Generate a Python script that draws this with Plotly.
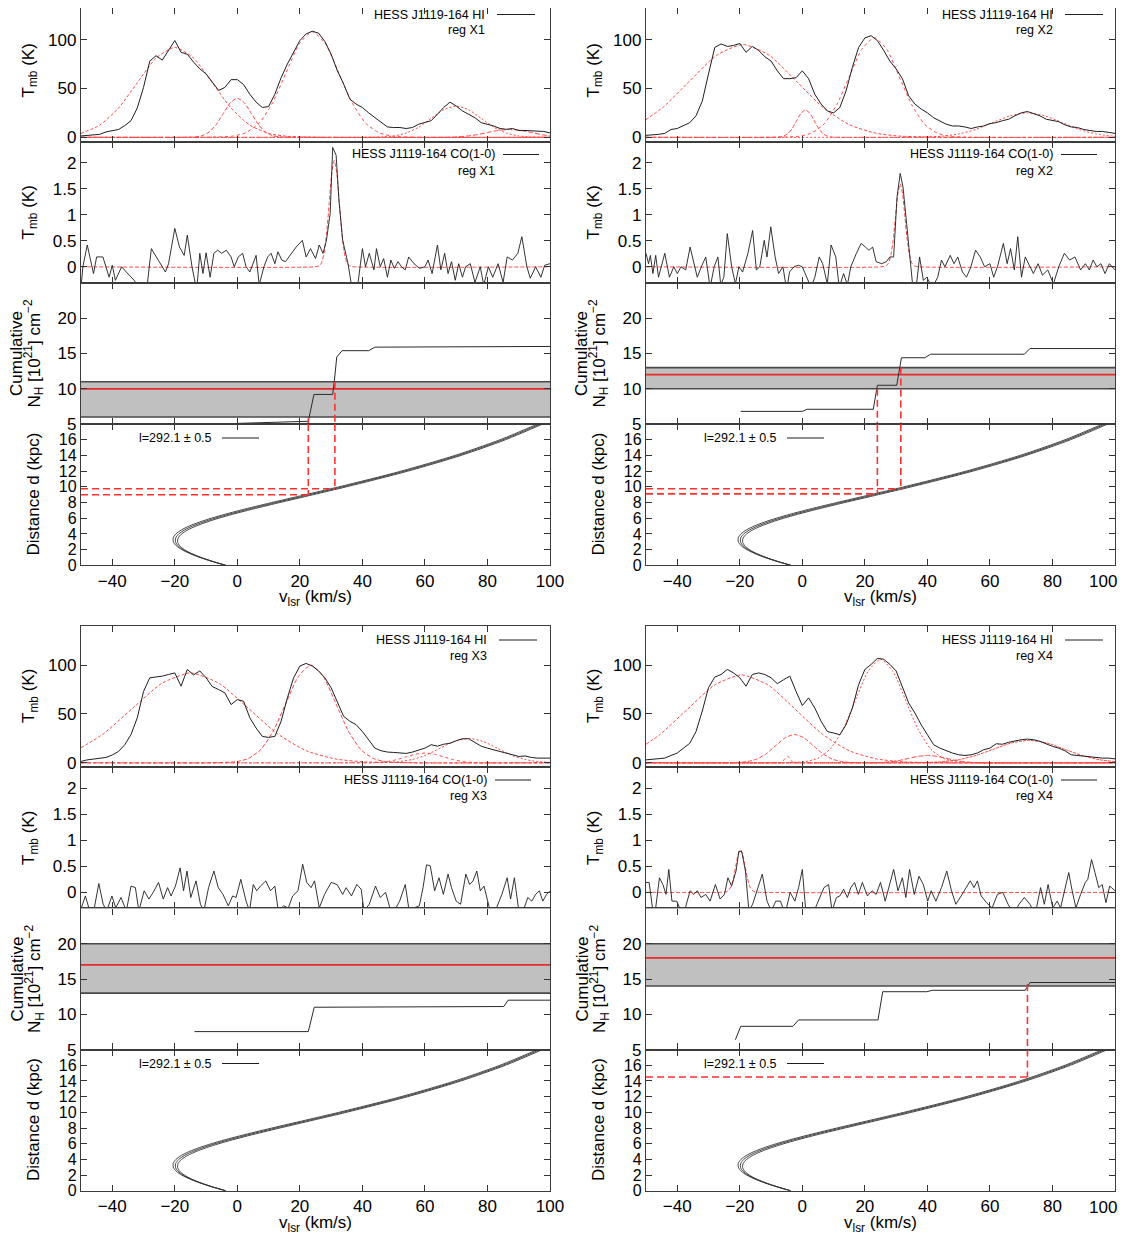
import plotly.graph_objects as go

# the page places the figure 8 px from the window's top-left corner
OFF = 8
W, H = 1128, 1234
FONT = "Liberation Sans, Arial, Helvetica, sans-serif"

# ---------------------------------------------------------------- data
regions = ["X1", "X2", "X3", "X4"]
x_ticks = [-40, -20, 0, 20, 40, 60, 80, 100]
x_tick_text = ["−40", "−20", "0", "20", "40", "60", "80", "100"]

# HI spectra, sampled every 2 km/s from -50 to 100
v_hi = list(range(-50, 101, 2))
hi_X1 = [1.4, 2, 2, 3, 5.5, 7, 8, 12, 17, 30,
         51, 78, 83.5, 79, 89, 99, 87, 85, 77, 70,
         65, 57, 48, 51, 59, 59, 54, 44, 36, 30.5,
         31.5, 44, 61, 75, 87, 99, 105.8, 108.6, 106.5, 98,
         85, 68, 54.5, 39, 34, 30.5, 25, 20, 15, 10.6,
         10, 10, 9, 10, 13.4, 15, 17, 23.6, 30.5, 36,
         32, 27, 23.6, 20, 15, 13.4, 11.6, 9, 8.2, 9,
         7, 7, 6.5, 6.5, 6, 4.5]
hi_X2 = [2, 2.4, 3, 4, 8, 9, 11.6, 15, 22, 37,
         65, 92, 95.5, 93, 94, 96, 87, 93, 89, 82.5,
         78, 68, 60, 60, 61, 68, 60, 44, 34, 27,
         25, 30.5, 47.6, 71.6, 92, 101.7, 104, 99, 89, 78,
         70, 60, 42.5, 34, 29, 25, 20, 17, 13.4, 11.6,
         11.6, 10.6, 9, 10.6, 11.6, 14, 15, 17, 18.5, 22,
         25, 26.4, 24.3, 22, 18.5, 17, 16, 12.7, 10.6, 10,
         8, 7, 6, 6, 5, 4]
hi_X3 = [1.4, 3, 3.8, 5, 5.5, 8, 11.6, 18.5, 29, 46,
         73, 87, 87.7, 88.7, 90.4, 92, 78.4, 95.5, 90, 94,
         87, 78, 75, 71.6, 59.6, 64.7, 63, 46, 35.6, 27,
         26, 27, 42.5, 66.4, 87, 99, 101.7, 99, 94, 87,
         76.7, 63, 47.6, 42.5, 39, 32, 23.6, 15, 12.3, 11,
         10.6, 10, 9.6, 11, 13.4, 15, 18.5, 17, 19, 20,
         22.6, 24.6, 24.6, 21, 17, 15, 13.4, 11.6, 10, 8.2,
         6.5, 7, 5.5, 4.8, 4.8, 4.8]
hi_X4 = [3, 3.8, 4, 4.8, 7.5, 10, 15, 20, 32, 53,
         77, 87.7, 90.4, 95.5, 92, 87, 78.4, 90.4, 92, 90.4,
         87, 81, 85, 88.7, 73, 58.6, 66.4, 56, 42.5, 32,
         30.5, 28.8, 39, 56, 80, 95.5, 100.7, 106.8, 106, 100.7,
         94, 78.4, 61.3, 51, 39, 28.8, 18.5, 15, 12.3, 10,
         8.2, 7.5, 8.2, 10, 13.4, 15, 19.5, 19, 21, 22.6,
         23.6, 24.3, 23.6, 22, 19, 16.8, 15, 12.3, 8.2, 7.5,
         7, 6.5, 5.5, 4.8, 4.8, 4]

# CO(1-0) spectra (velocity, Tmb)
co_v_X1 = [-50, -49.4, -48, -46, -45, -43, -41, -40, -39, -37,
           -35.5, -33, -31.5, -29, -27.5, -26, -24, -23, -22, -20,
           -18.5, -17, -16, -14.5, -13, -12, -11, -10, -8.7, -7.5,
           -6.3, -5, -3.5, -2, -1, 0.3, 1.7, 2.8, 4, 5,
           6, 7, 8.5, 9.7, 10.8, 12, 13, 14.2, 15.4, 16.5,
           17.7, 18.8, 20.8, 22, 23.4, 25, 26.2, 27.4, 28.5, 29.7,
           30.5, 31.6, 32.5, 33.7, 35.4, 36.5, 38.2, 40, 41, 42.2,
           43.7, 44.5, 45.7, 46.8, 48, 49.1, 50.2, 51.4, 52.5, 53.7,
           54.8, 56.5, 58.3, 60, 61, 62.3, 64, 65.1, 66.3, 67.4,
           68.5, 69.7, 70.8, 72, 73, 74.5, 76, 77.7, 78.8, 80.3,
           81.7, 83.4, 85, 86.3, 88, 89.7, 91, 92.6, 93.7, 95.4,
           97.1, 98.3, 100]
co_T_X1 = [-0.4, 0, 0.42, -0.13, 0.19, 0.19, -0.2, 0.03, -0.26, 0,
           -0.1, -0.26, -0.4, -0.45, 0.35, 0.2, 0, -0.1, 0.06, 0.74,
           0.38, 0.22, 0.61, 0, -0.45, 0.26, -0.13, 0.27, -0.2, 0.26,
           0.32, 0.26, 0.32, 0.19, 0, 0.19, 0.26, 0, -0.1, 0.06,
           0.22, -0.35, 0, 0.19, 0.26, 0.06, 0.29, 0.13, 0.1, 0.19,
           0.29, 0.38, 0.51, 0.19, 0.35, 0.16, 0.42, 0.26, 0.51, 1.03,
           2.3, 2.15, 1.28, 0.51, 0.06, -0.35, -0.5, 0.35, 0, 0.26,
           -0.06, 0.35, 0, 0.16, -0.2, 0.13, -0.03, 0.1, 0, -0.06,
           0.19, 0.06, -0.03, 0, 0.13, -0.13, 0.42, -0.06, 0.26, -0.13,
           0.1, -0.26, 0.06, -0.2, 0, 0.06, -0.3, 0, -0.35, 0,
           -0.2, 0.06, -0.3, 0.19, 0.13, 0.26, 0.58, 0, -0.22, 0,
           -0.2, 0.03, 0.06]
co_v_X2 = [-50, -49.2, -48.6, -47.8, -46.9, -46, -44, -42.5, -41.1, -40,
           -38.8, -37.3, -35.9, -34.7, -33.6, -32.1, -30.9, -29.5, -28.2, -27,
           -26.1, -25.1, -24, -22.6, -21.4, -20.3, -19.1, -17.4, -15.9, -14.7,
           -13.6, -12.2, -11.3, -10.1, -8.7, -7.6, -6.2, -5, -4.1, -2.7,
           -1.2, 0, 1.7, 2.8, 4, 5.4, 6.5, 8, 9.2, 10.7,
           11.8, 13.2, 14.4, 15.5, 17.3, 18.8, 20.2, 21.3, 22.5, 23.6,
           25.4, 26.9, 28, 29.2, 30.3, 31.3, 32.2, 33.5, 34.3, 35.2,
           36.4, 37.5, 38.7, 39.8, 41.6, 43.3, 44.5, 45.6, 47.3, 48.5,
           49.7, 51.2, 52.5, 53.9, 55.4, 56.9, 58.3, 60, 61.2, 62.4,
           64.3, 65.5, 66.6, 67.8, 68.9, 70.1, 71.3, 72.8, 73.9, 75.4,
           76.8, 78.5, 80.3, 82, 83.8, 85.5, 87.2, 89, 90.5, 91.8,
           93, 94.2, 95.5, 96.8, 98.2, 100]
co_T_X2 = [0.26, 0.06, 0.22, -0.13, 0.22, -0.2, 0.26, -0.2, 0, -0.13,
           0, -0.06, 0.38, 0.06, -0.2, 0.03, 0.19, -0.4, 0, 0.19,
           -0.35, -0.2, 0.64, 0, -0.33, 0, -0.1, 0.26, 0.7, -0.06,
           0, 0.51, 0.19, 0.77, 0.19, -0.13, 0, -0.45, -0.1, 0,
           0.03, 0, -0.22, -0.4, -0.2, 0.19, 0.06, -0.33, 0.42, 0.19,
           -0.4, -0.13, -0.35, 0, 0.26, 0.45, 0.38, 0.32, 0.38, 0.1,
           0.06, 0.1, 0.19, 0.19, 1.35, 1.8, 1.54, 0.7, 0.26, -0.3,
           -0.4, 0.19, -0.26, -0.2, -0.4, -0.2, 0.13, 0, 0.22, 0.06,
           0.19, -0.1, -0.2, 0, 0.32, 0.19, 0, 0.06, -0.2, 0,
           0.45, 0.06, 0.35, -0.06, 0.58, -0.2, 0.19, 0, -0.13, 0.06,
           -0.16, -0.06, -0.33, 0, 0.26, 0.13, 0.19, -0.06, 0.06, -0.06,
           0.13, 0, 0.06, -0.13, 0.06, -0.06]
co_v_X3 = [-50, -48.6, -47.3, -45.8, -44.3, -42.9, -41.8, -40.1, -38.9, -37.2,
           -35.5, -34, -32.6, -31.5, -29.8, -28.3, -26.9, -25.2, -23.7, -22.3,
           -21.2, -19.8, -18.3, -17.2, -16.1, -14.9, -13.2, -11.8, -10.7, -9.2,
           -7.5, -6.1, -4.6, -2.9, -1.5, -0.4, 1.1, 2.8, 3.9, 5.1,
           6.2, 7.4, 9.1, 10.6, 12, 13.1, 14.8, 16.3, 17.7, 19.4,
           20.9, 22.2, 23.6, 24.7, 26.2, 27.9, 30, 31.9, 33.7, 34.8,
           36.5, 38.2, 39.6, 40.5, 42.2, 44.2, 45.7, 47.4, 48.8, 50.2,
           51.9, 53.7, 55.1, 56.5, 58.2, 59.4, 60.5, 61.7, 63.1, 64.5,
           65.9, 67.4, 68.5, 70, 71.4, 73.1, 74.3, 75.4, 76.6, 77.7,
           78.9, 80, 81.1, 82.9, 84.6, 86.3, 87.4, 88.6, 89.9, 91.4,
           92.9, 94.2, 95.4, 96.6, 97.7, 98.9, 100]
co_T_X3 = [-0.32, -0.07, -0.34, -0.32, 0.17, -0.23, -0.36, -0.07, -0.3, -0.1,
           -0.36, 0.12, 0.09, -0.36, 0.03, -0.13, 0, 0.19, -0.13, 0.09,
           -0.07, 0.12, 0.47, 0.03, 0.41, -0.1, 0.22, -0.23, -0.36, 0.09,
           0.41, 0.09, -0.04, -0.26, -0.07, -0.1, 0.25, -0.17, -0.36, 0.15,
           0.03, 0.12, 0.22, 0.03, 0.12, -0.36, -0.26, -0.3, -0.07, 0.03,
           0.54, 0.19, 0.09, 0.22, -0.3, -0.04, 0.19, 0.15, -0.04, 0.09,
           -0.07, 0.15, 0.06, -0.36, -0.23, 0.12, -0.1, 0, -0.3, -0.36,
           -0.17, 0.15, -0.42, -0.3, -0.26, 0.09, 0.53, 0.51, 0.03, 0.28,
           -0.04, 0.35, 0.09, -0.17, -0.23, 0.35, 0.15, 0.22, 0.41, 0.03,
           0.12, -0.17, -0.42, -0.3, -0.04, 0.28, -0.13, 0.28, -0.3, -0.36,
           -0.1, -0.17, -0.04, 0.03, -0.17, -0.04, 0.03]
co_v_X4 = [-50, -49, -47.8, -46.9, -45.7, -44.6, -43.6, -42.7, -41.7, -40.2,
           -38.8, -37.4, -35.9, -34.7, -33.6, -32.4, -30.9, -29.5, -27.8, -26.3,
           -24.9, -23.8, -22.6, -21.2, -20.3, -19.4, -18.2, -17.1, -15.9, -14.5,
           -12.8, -11.3, -9.9, -8.5, -7, -5.5, -3.9, -2.4, -1.2, 0,
           1.1, 2.8, 5.1, 6.9, 8.4, 9.5, 10.9, 12, 13.2, 14.4,
           15.5, 16.7, 17.9, 19.2, 20.8, 22.3, 23.6, 25, 26.5, 27.7,
           29.2, 30.6, 32, 33.1, 34.3, 35.8, 37.3, 38.7, 40.1, 41.2,
           42.7, 44.5, 46.2, 47.7, 49.1, 50.8, 52.3, 53.7, 54.9, 56,
           57.2, 58.9, 60.7, 62.4, 64.1, 65.8, 67.6, 69.3, 71, 72.8,
           74.5, 76.2, 77.4, 78.6, 80.1, 81.5, 82.6, 84, 85.2, 86.3,
           87.5, 89, 90.5, 91.3, 92.5, 93.6, 94.8, 95.9, 97.1, 98.3,
           100]
co_T_X4 = [0.19, 0.19, -0.36, -0.3, 0.28, 0.15, -0.04, 0.44, -0.17, -0.17,
           -0.36, -0.3, 0.03, -0.04, 0.03, -0.1, -0.04, -0.17, 0.15, -0.13,
           -0.04, 0.28, 0.12, 0.41, 0.79, 0.79, 0.41, -0.36, -0.23, 0.03,
           0.35, -0.17, -0.36, -0.17, -0.17, -0.42, 0, -0.17, 0.09, 0.44,
           -0.36, -0.5, -0.17, 0.09, 0.15, -0.36, -0.1, -0.07, 0.06, -0.1,
           0.09, 0.19, -0.04, 0.19, -0.07, 0.03, -0.04, 0.19, -0.17, 0.09,
           0.44, 0.03, 0.28, -0.1, 0.44, -0.04, 0.31, 0.15, -0.17, 0.03,
           -0.17, 0.09, 0.41, 0.03, -0.23, -0.07, 0.09, 0.22, 0.09, 0.22,
           -0.07, -0.2, -0.3, -0.04, 0, -0.23, -0.42, -0.23, -0.1, -0.23,
           -0.42, 0.09, -0.23, 0.15, -0.3, -0.17, -0.3, 0.09, 0.38, 0.03,
           -0.3, -0.04, 0.19, 0.25, 0.63, 0.38, 0.09, 0.15, -0.2, 0.12,
           0.03]

# Gaussian fit components, read point by point (velocity list, Tmb list)
fit_hi_X1 = [
    ([-50, -44, -38, -32, -26, -20, -14, -8, -2, 4, 10, 16, 28, 100],
     [4.0, 12.4, 29.9, 55.8, 81.1, 92, 81.1, 55.8, 29.9, 12.4, 4.0, 1.0, 0, 0]),
    ([-50, -18, -13.5, -11.25, -9, -6.75, -4.5, -2.25, 0, 2.25, 4.5, 6.75, 9, 11.25, 13.5, 18, 100],
     [0, 0, 0.44, 1.76, 5.4, 13, 24.3, 35.3, 40, 35.3, 24.3, 13, 5.4, 1.76, 0.44, 0, 0]),
    ([-50, -10, -1.5, 2.75, 7, 11.25, 15.5, 19.75, 24, 28.25, 32.5, 36.75, 41, 45.25, 49.5, 58, 100],
     [0, 0, 1.2, 4.75, 14.6, 35.1, 65.5, 95.3, 108, 95.3, 65.5, 35.1, 14.6, 4.75, 1.2, 0, 0]),
    ([-50, 38, 46, 50, 54, 58, 62, 66, 70, 74, 78, 82, 86, 90, 94, 100],
     [0, 0, 0.35, 1.4, 4.3, 10.4, 19.4, 28.2, 32, 28.2, 19.4, 10.4, 4.3, 1.4, 0.35, 0.03]),
    ([-50, 59, 66, 69.5, 73, 76.5, 80, 83.5, 87, 90.5, 94, 97.5, 100],
     [0, 0, 0.09, 0.35, 1.1, 2.6, 4.9, 7.1, 8, 7.1, 4.9, 2.6, 1.4]),
]
fit_co_X1 = [
    ([-50, 24.6, 26.2, 27, 27.8, 28.6, 29.4, 30.2, 31, 31.8, 32.6, 33.4, 34.2, 35, 35.8, 37.4, 100],
     [0, 0, 0.02, 0.09, 0.28, 0.67, 1.24, 1.81, 2.05, 1.81, 1.24, 0.67, 0.28, 0.09, 0.02, 0, 0]),
]
fit_hi_X2 = [
    ([-50, -44.5, -36, -27.5, -19, -10.5, -2, 6.5, 15, 23.5, 32, 49, 100],
     [18.1, 30.9, 57.7, 83.8, 95, 83.8, 57.7, 30.9, 12.9, 4.2, 1.05, 0, 0]),
    ([-50, -10.2, -7.4, -6, -4.6, -3.2, -1.8, -0.4, 1, 2.4, 3.8, 5.2, 6.6, 8, 9.4, 12.2, 100],
     [0, 0, 0.31, 1.23, 3.78, 9.1, 17, 24.7, 28, 24.7, 17, 9.1, 3.78, 1.23, 0.31, 0, 0]),
    ([-50, -9, -1, 3, 7, 11, 15, 19, 23, 27, 31, 35, 39, 43, 47, 55, 100],
     [0, 0, 1.1, 4.5, 13.8, 33.2, 61.9, 90, 102, 90, 61.9, 33.2, 13.8, 4.5, 1.1, 0, 0]),
    ([-50, 28, 39, 44.5, 50, 55.5, 61, 66.5, 72, 77.5, 83, 88.5, 94, 100],
     [0, 0, 0.28, 1.1, 3.4, 8.1, 15.2, 22, 25, 22, 15.2, 8.1, 3.4, 1.0]),
]
fit_co_X2 = [
    ([-50, 25.3, 26.8, 27.55, 28.3, 29.05, 29.8, 30.55, 31.3, 32.05, 32.8, 33.55, 34.3, 35.05, 35.8, 37.3, 100],
     [0, 0, 0.02, 0.07, 0.22, 0.52, 0.97, 1.41, 1.6, 1.41, 0.97, 0.52, 0.22, 0.07, 0.02, 0, 0]),
]
fit_hi_X3 = [
    ([-50, -42.75, -33.5, -24.25, -15, -5.75, 3.5, 12.75, 22, 31.25, 40.5, 59, 100],
     [15.4, 29.9, 55.8, 81.1, 92, 81.1, 55.8, 29.9, 12.4, 4.0, 1.0, 0, 0]),
    ([-50, -8.5, -0.5, 3.5, 7.5, 11.5, 15.5, 19.5, 23.5, 27.5, 31.5, 35.5, 39.5, 43.5, 47.5, 55.5, 100],
     [0, 0, 1.1, 4.4, 13.5, 32.5, 60.7, 88.2, 100, 88.2, 60.7, 32.5, 13.5, 4.4, 1.1, 0, 0]),
    ([-50, 36, 42, 45, 48, 51, 54, 57, 60, 63, 66, 69, 72, 75, 78, 84, 100],
     [0, 0, 0.11, 0.44, 1.35, 3.25, 6.07, 8.82, 10, 8.82, 6.07, 3.25, 1.35, 0.44, 0.11, 0, 0]),
    ([-50, 38, 47, 51.5, 56, 60.5, 65, 69.5, 74, 78.5, 83, 87.5, 92, 96.5, 100],
     [0, 0, 0.28, 1.1, 3.4, 8.1, 15.2, 22, 25, 22, 15.2, 8.1, 3.4, 1.1, 0.4]),
]
fit_co_X3 = []
fit_hi_X4 = [
    ([-50, -45.45, -36.8, -28.15, -19.5, -10.85, -2.2, 6.45, 15.1, 23.75, 32.4, 49.7, 100],
     [19.0, 29.2, 54.6, 79.4, 90, 79.4, 54.6, 29.2, 12.2, 3.95, 1.0, 0, 0]),
    ([-50, -26.5, -20.5, -17.5, -14.5, -11.5, -8.5, -5.5, -2.5, 0.5, 3.5, 6.5, 9.5, 12.5, 15.5, 21.5, 100],
     [0, 0, 0.32, 1.28, 3.9, 9.4, 17.6, 25.6, 29, 25.6, 17.6, 9.4, 3.9, 1.28, 0.32, 0, 0]),
    ([-50, -8, -7.2, -6.4, -5.6, -4.8, -4.0, -3.2, -2.4, -1.6, 100],
     [0, 0, 0.08, 0.95, 4.25, 7, 4.25, 0.95, 0.08, 0, 0]),
    ([-50, -7, 1, 5, 9, 13, 17, 21, 25, 29, 33, 37, 41, 45, 49, 57, 100],
     [0, 0, 1.2, 4.7, 14.3, 34.4, 64.3, 93.5, 106, 93.5, 64.3, 34.4, 14.3, 4.7, 1.2, 0, 0]),
    ([-50, 16, 22, 25, 28, 31, 34, 37, 40, 43, 46, 49, 52, 55, 58, 64, 100],
     [0, 0, 0.08, 0.33, 1.0, 2.4, 4.55, 6.6, 7.5, 6.6, 4.55, 2.4, 1.0, 0.33, 0.08, 0, 0]),
    ([-50, 27.3, 38.6, 44.25, 49.9, 55.55, 61.2, 66.85, 72.5, 78.15, 83.8, 89.45, 95.1, 100],
     [0, 0, 0.26, 1.0, 3.1, 7.5, 14, 20.3, 23, 20.3, 14, 7.5, 3.1, 1.2]),
]
fit_co_X4 = [
    ([-50, -25.8, -24.3, -23.55, -22.8, -22.05, -21.3, -20.55, -19.8, -19.05, -18.3, -17.55, -16.8, -16.05, -15.3, -13.8, 100],
     [0, 0, 0.01, 0.04, 0.11, 0.27, 0.5, 0.72, 0.82, 0.72, 0.5, 0.27, 0.11, 0.04, 0.01, 0, 0]),
]

# cumulative column density N_H [1e21 cm^-2] versus velocity
cum_v_X1 = [0, 22.7, 24.5, 30.5, 31.0, 31.8, 33.5, 42, 44, 85, 86.5, 100]
cum_nh_X1 = [5.1, 5.4, 9.2, 9.2, 11.0, 14.5, 15.4, 15.4, 15.9, 15.9, 16.0, 16.0]
cum_v_X2 = [-19.7, 0, 1.5, 22.7, 24, 30.2, 31.7, 39.2, 41, 71, 72.8, 100]
cum_nh_X2 = [6.8, 6.8, 7.1, 7.1, 10.5, 10.5, 14.4, 14.4, 14.9, 14.9, 15.7, 15.7]
cum_v_X3 = [-13.7, 22.7, 24.6, 60.4, 61, 85.2, 86.6, 100]
cum_nh_X3 = [7.55, 7.55, 11.0, 11.05, 11.1, 11.1, 12.0, 12.0]
cum_v_X4 = [-21.4, -19.7, -3, -1.2, 24.2, 25.7, 39.8, 41.6, 71.3, 72.8, 100]
cum_nh_X4 = [6.4, 8.3, 8.3, 9.2, 9.2, 13.2, 13.2, 13.4, 13.4, 14.5, 14.5]

# required N_H band: [lower, upper, best]
band_X1 = [6, 11, 10]
band_X2 = [10, 13, 12]
band_X3 = [13, 20, 17]
band_X4 = [14, 20, 18]

# red dashed read-offs: velocity, N_H where the line starts, distance
ref_v_X1, ref_nh_X1, ref_d_X1 = [22.7, 31.2], [5.8, 11.0], [9.0, 9.75]
ref_v_X2, ref_nh_X2, ref_d_X2 = [24.0, 31.5], [10.0, 13.0], [9.1, 9.75]
ref_v_X3, ref_nh_X3, ref_d_X3 = [], [], []
ref_v_X4, ref_nh_X4, ref_d_X4 = [72.0], [14.3], [14.5]

# kinematic distance curves for l = 291.6, 292.1, 292.6
d_grid = [0, 0.5, 1, 1.5, 2, 2.5, 3, 3.5, 4, 4.5, 5, 5.5, 6, 6.5, 7, 7.5, 8,
          9, 10, 12, 14, 16, 18]
v_l291_6 = [-3.7, -7.90, -11.58, -14.62, -16.94, -18.45, -19.12, -18.90, -17.82,
            -15.91, -13.23, -9.87, -5.93, -1.51, 3.28, 8.34, 13.57,
            24.25, 34.83, 54.51, 71.49, 85.73, 97.61]
v_l292_1 = [-3.7, -8.0, -11.76, -14.92, -17.36, -19.0, -19.79, -19.70, -18.73,
            -16.91, -14.32, -11.02, -7.13, -2.75, 2.02, 7.07, 12.30,
            23.02, 33.64, 53.44, 70.53, 84.86, 96.80]
v_l292_6 = [-3.7, -8.08, -11.96, -15.22, -17.78, -19.55, -20.47, -20.50, -19.64,
            -17.93, -15.42, -12.19, -8.35, -4.00, 0.74, 5.78, 11.02,
            21.77, 32.45, 52.36, 69.56, 83.98, 95.98]

panels = [
    dict(hi=hi_X1, cov=co_v_X1, coT=co_T_X1, fhi=fit_hi_X1, fco=fit_co_X1,
         cv=cum_v_X1, cn=cum_nh_X1, band=band_X1, rv=ref_v_X1, rn=ref_nh_X1, rd=ref_d_X1),
    dict(hi=hi_X2, cov=co_v_X2, coT=co_T_X2, fhi=fit_hi_X2, fco=fit_co_X2,
         cv=cum_v_X2, cn=cum_nh_X2, band=band_X2, rv=ref_v_X2, rn=ref_nh_X2, rd=ref_d_X2),
    dict(hi=hi_X3, cov=co_v_X3, coT=co_T_X3, fhi=fit_hi_X3, fco=fit_co_X3,
         cv=cum_v_X3, cn=cum_nh_X3, band=band_X3, rv=ref_v_X3, rn=ref_nh_X3, rd=ref_d_X3),
    dict(hi=hi_X4, cov=co_v_X4, coT=co_T_X4, fhi=fit_hi_X4, fco=fit_co_X4,
         cv=cum_v_X4, cn=cum_nh_X4, band=band_X4, rv=ref_v_X4, rn=ref_nh_X4, rd=ref_d_X4),
]

# ---------------------------------------------------------------- layout geometry (window px)
XL = [(81, 550), (646, 1115), (81, 550), (646, 1115)]
YB = [0.5, 0.5, 626, 626]
SUBH = 141.2
Y_RANGES = [[-4.5, 140], [-0.31, 2.41], [5, 25], [0, 18]]
Y_TICKS = [[0, 50, 100], [0, 0.5, 1, 1.5, 2], [5, 10, 15, 20],
           [0, 2, 4, 6, 8, 10, 12, 14, 16]]
Y_FONT = [17, 17, 17, 16]

KEY_HI_R = [487, 1055, 489, 1055]
KEY_CO_R = [497, 1055, 489, 1055]
VIEW_RIGHT = 1119   # last reliably visible column of the window


def fxp(px):
    return (px - OFF) / W


def fyp(py):
    return 1 - (py - OFF) / H


fig = go.Figure()


def axn(n):
    return ("x" if n == 1 else f"x{n}"), ("y" if n == 1 else f"y{n}")


def add(n, **kw):
    xa, ya = axn(n)
    fig.add_trace(go.Scatter(xaxis=xa, yaxis=ya, hoverinfo="skip", mode="lines", **kw))


FIT_DASHES = ["3px,2px", "4px,2px", "3px,3px", "2px,2px", "5px,2px", "3px,1px"]


def red_fit(i):
    return dict(color="#ff4646", width=1, dash=FIT_DASHES[i % len(FIT_DASHES)],
                shape="spline", smoothing=0.6)


RED_REF = dict(color="#ff3030", width=1.6, dash="7px,4px")
DARK = "#1e1e1e"

layout = dict(width=W, height=H, margin=dict(l=0, r=0, t=0, b=0, autoexpand=False),
              paper_bgcolor="white", plot_bgcolor="white", showlegend=False,
              hovermode=False, font=dict(family=FONT, size=17, color="black"))
annotations = []
shapes = []


def ann(text, px, py, size=17, xanchor="center", angle=0):
    annotations.append(dict(text=text, x=fxp(px), y=fyp(py), xref="paper", yref="paper",
                            showarrow=False, xanchor=xanchor, yanchor="middle",
                            textangle=angle, font=dict(size=size, family=FONT, color="black")))


def hline(x0, x1, py, color=DARK, width=1):
    shapes.append(dict(type="line", xref="paper", yref="paper", x0=fxp(x0), x1=fxp(x1),
                       y0=fyp(py), y1=fyp(py), line=dict(color=color, width=width)))


for p, P in enumerate(panels):
    reg = regions[p]
    right_col = XL[p][1] + 14 > VIEW_RIGHT
    for k in range(4):
        n = p * 4 + k + 1
        top = YB[p] + k * SUBH
        bot = top + SUBH
        r0, r1 = Y_RANGES[k]
        if top < OFF:
            # the window cuts the top of this panel: keep the same value scale
            r1 = r1 - (r1 - r0) * (OFF - top) / SUBH
            top = OFF
        xa, ya = axn(n)
        xkey = "xaxis" if n == 1 else f"xaxis{n}"
        ykey = "yaxis" if n == 1 else f"yaxis{n}"
        ttext = list(x_tick_text)
        if right_col:
            ttext[-1] = ""      # drawn below, shifted so it stays inside the window
        layout[xkey] = dict(domain=[fxp(XL[p][0]), fxp(XL[p][1])], range=[-50, 100],
                            anchor=ya, tickvals=x_ticks, ticktext=ttext,
                            ticks="inside", ticklen=6,
                            tickcolor="#333", mirror="ticks", showline=True,
                            linecolor="#3c3c3c", linewidth=1.3, showgrid=False,
                            zeroline=False, showticklabels=(k == 3), automargin=False,
                            ticklabeloverflow="allow",
                            tickfont=dict(size=17, family=FONT, color="black"))
        layout[ykey] = dict(domain=[fyp(bot), fyp(top)], range=[r0, r1],
                            anchor=xa, tickvals=Y_TICKS[k], ticks="inside", ticklen=6,
                            tickcolor="#333", mirror="ticks", showline=True,
                            linecolor="#3c3c3c", linewidth=1.3, showgrid=False,
                            zeroline=False, automargin=False,
                            tickfont=dict(size=Y_FONT[k], family=FONT, color="black"))

    n_hi, n_co, n_cum, n_d = p * 4 + 1, p * 4 + 2, p * 4 + 3, p * 4 + 4

    # HI panel
    for i, (fv, fT) in enumerate(P["fhi"]):
        add(n_hi, x=fv, y=fT, line=red_fit(i))
    add(n_hi, x=v_hi, y=P["hi"], line=dict(color=DARK, width=1))

    # CO panel
    for i, (fv, fT) in enumerate(P["fco"]):
        add(n_co, x=fv, y=fT, line=dict(red_fit(0), dash="4px,2px"))
    add(n_co, x=P["cov"], y=P["coT"], line=dict(color=DARK, width=0.9))

    # cumulative panel
    lo, hi, best = P["band"]
    add(n_cum, x=[-50, 100], y=[lo, lo], line=dict(color="#4a4a4a", width=1.6))
    add(n_cum, x=[-50, 100], y=[hi, hi], fill="tonexty", fillcolor="#c0c0c0",
        line=dict(color="#4a4a4a", width=1.6))
    add(n_cum, x=[-50, 100], y=[best, best], line=dict(color="#e82a2a", width=1.8))
    add(n_cum, x=P["cv"], y=P["cn"], line=dict(color="#2a2a2a", width=1))

    # distance panel
    for vl in (v_l291_6, v_l292_1, v_l292_6):
        add(n_d, x=vl, y=d_grid, line=dict(color="#333333", width=0.9, shape="spline", smoothing=0.8))

    for rv, rn, rd in zip(P["rv"], P["rn"], P["rd"]):
        add(n_cum, x=[rv, rv], y=[rn, 5], line=RED_REF)
        add(n_d, x=[rv, rv], y=[18, rd], line=RED_REF)
        add(n_d, x=[-50, rv], y=[rd, rd], line=RED_REF)

    # keys
    yb = YB[p]
    r = KEY_HI_R[p]
    ann("HESS J1119-164 HI", r, yb + 14, size=12.5, xanchor="right")
    ann(f"reg {reg}", r, yb + 29.5, size=12.5, xanchor="right")
    hline(r + 10, r + 48, yb + 14)
    r = KEY_CO_R[p]
    ann("HESS J1119-164 CO(1-0)", r, yb + 154, size=12.5, xanchor="right")
    ann(f"reg {reg}", r, yb + 170, size=12.5, xanchor="right")
    hline(r + 6, r + 42, yb + 154)
    xo = XL[p][0] - 81
    ann("l=292.1 ± 0.5", 214 + xo, yb + 437.5, size=12.5, xanchor="right")
    hline(222 + xo, 259 + xo, yb + 437.5)

    # last x tick label of the right-hand column
    if right_col:
        ann(x_tick_text[-1], VIEW_RIGHT, yb + 581, xanchor="right")

    # axis titles
    ann("T<sub>mb</sub> (K)", 30 + xo, yb + 70, angle=-90)
    ann("T<sub>mb</sub> (K)", 30 + xo, yb + 212, angle=-90)
    ann("Cumulative", 16.5 + xo, yb + 353, angle=-90)
    ann("N<sub>H</sub> [10<sup>21</sup>] cm<sup>−2</sup>", 34 + xo, yb + 353, angle=-90)
    ann("Distance d (kpc)", 33 + xo, yb + 494, angle=-90)
    ann("v<sub>lsr</sub> (km/s)", (XL[p][0] + XL[p][1]) / 2, yb + 598)

layout["annotations"] = annotations
layout["shapes"] = shapes
fig.update_layout(**layout)
fig.write_html("out.html")
